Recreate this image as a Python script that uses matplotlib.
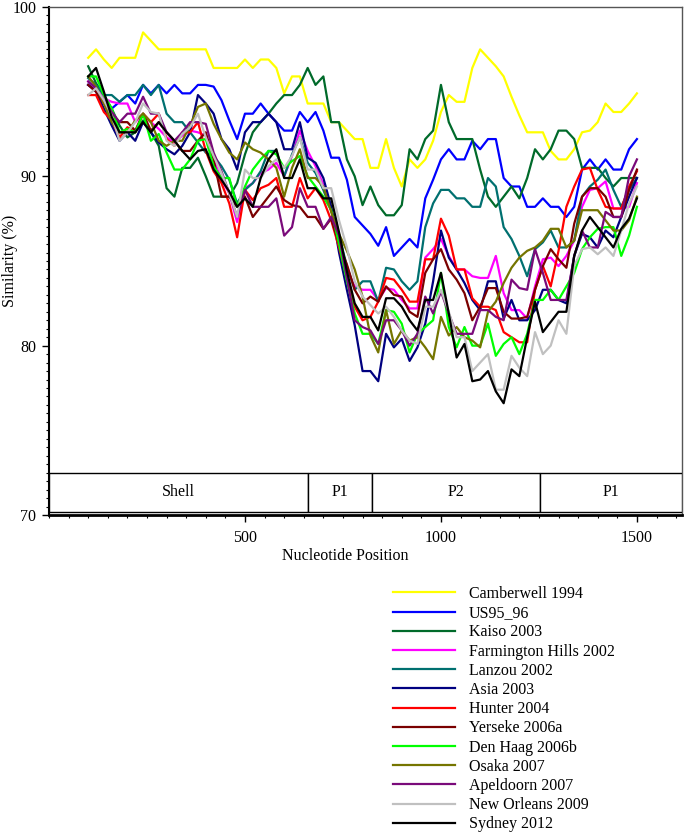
import matplotlib
matplotlib.use("Agg")
import matplotlib.pyplot as plt
import matplotlib.ticker as ticker
from matplotlib.patches import Rectangle
import numpy as np

plt.rcParams['font.family'] = ['Liberation Serif', 'DejaVu Serif']

# window midpoints along the alignment (step 20 nt)
positions = np.arange(100, 1501, 20)

camberwell_1994 = [97.0, 97.5, 96.9, 96.4, 97.0, 97.0, 97.0, 98.5, 98.0, 97.5,
                   97.5, 97.5, 97.5, 97.5, 97.5, 97.5, 96.4, 96.4, 96.4, 96.4,
                   96.9, 96.4, 96.9, 96.9, 96.4, 94.9, 95.9, 95.9, 94.3, 94.3,
                   94.3, 93.2, 93.2, 92.7, 92.2, 92.2, 90.5, 90.5, 92.2, 90.5,
                   89.4, 91.0, 90.5, 91.0, 92.1, 93.8, 94.8, 94.4, 94.4, 96.4,
                   97.5, 97.0, 96.5, 95.9, 94.7, 93.6, 92.6, 92.6, 92.6, 91.5,
                   91.0, 91.0, 91.6, 92.6, 92.7, 93.2, 94.3, 93.8, 93.8, 94.3,
                   94.9]
us95_96 = [95.4, 95.1, 94.6, 94.0, 94.4, 94.8, 94.3, 95.4, 94.9, 95.4,
           94.9, 95.4, 94.9, 94.9, 95.4, 95.4, 95.3, 94.5, 93.3, 92.2,
           93.7, 93.7, 94.3, 93.7, 93.2, 92.7, 92.7, 93.8, 93.2, 93.8,
           92.7, 91.1, 91.1, 89.8, 87.6, 87.1, 86.6, 85.9, 87.0, 85.3,
           85.8, 86.3, 85.8, 88.7, 89.8, 91.0, 91.6, 91.0, 91.0, 92.1,
           91.6, 92.2, 92.2, 89.9, 89.4, 89.4, 88.2, 88.2, 88.7, 88.2,
           88.2, 87.6, 88.2, 90.4, 91.0, 90.4, 91.0, 90.4, 90.4, 91.6,
           92.2]
kaiso_2003 = [96.5, 95.5, 94.8, 94.0, 93.0, 92.3, 92.6, 93.3, 92.6, 91.8,
              89.3, 88.8, 90.5, 90.5, 91.1, 90.0, 88.8, 88.8, 88.8, 89.6,
              91.3, 92.6, 93.2, 93.7, 94.3, 94.8, 94.8, 95.4, 96.4, 95.4,
              95.9, 93.2, 93.2, 91.0, 90.0, 88.3, 89.4, 88.3, 87.7, 87.7,
              88.3, 91.6, 91.0, 92.2, 92.7, 95.4, 93.2, 92.2, 92.2, 92.2,
              90.4, 88.8, 88.2, 88.8, 89.4, 88.7, 89.9, 91.6, 91.0, 91.6,
              92.7, 92.7, 92.2, 90.5, 90.5, 90.5, 89.9, 89.4, 89.9, 89.9,
              89.9]
farmington_hills_2002 = [95.6, 95.2, 94.6, 94.4, 94.3, 94.3, 93.2, 93.7, 93.2, 92.8,
                         92.3, 92.0, 92.4, 92.7, 92.6, 92.4, 91.0, 89.8, 89.0, 87.3,
                         89.3, 89.6, 90.2, 90.4, 90.8, 90.0, 91.2, 92.7, 91.5, 90.6,
                         89.5, 88.0, 86.3, 84.5, 83.5, 83.3, 83.3, 82.7, 83.4, 83.3,
                         82.7, 82.2, 82.2, 85.2, 85.7, 86.3, 85.3, 84.5, 84.5, 84.1,
                         84.0, 84.0, 85.3, 83.1, 82.1, 82.1, 81.6, 83.5, 85.1, 85.2,
                         84.7, 85.3, 86.2, 88.2, 89.2, 89.3, 89.7, 88.1, 88.1, 88.2,
                         89.6]
lanzou_2002 = [95.8, 95.4, 94.8, 94.8, 94.4, 94.8, 94.8, 95.4, 94.8, 95.4,
               93.7, 93.2, 93.2, 92.6, 92.0, 91.4, 91.2, 90.6, 89.8, 88.4,
               89.2, 89.6, 90.3, 91.5, 91.5, 90.0, 91.3, 92.3, 90.8, 90.2,
               89.2, 88.0, 86.5, 84.7, 83.3, 83.8, 83.8, 82.6, 84.6, 84.5,
               83.8, 83.3, 83.8, 87.0, 88.4, 89.2, 89.2, 88.7, 88.7, 88.2,
               88.2, 89.9, 89.4, 87.0, 86.3, 85.3, 84.1, 85.7, 86.1, 86.8,
               85.8, 85.8, 86.2, 88.8, 89.4, 89.8, 90.4, 89.2, 88.2, 89.2,
               89.9]
asia_2003 = [95.4, 95.0, 94.0, 93.0, 92.1, 92.6, 92.1, 93.2, 92.6, 92.0,
             91.6, 91.3, 91.8, 92.6, 94.8, 94.3, 93.7, 92.2, 91.6, 90.4,
             92.6, 93.2, 93.2, 93.7, 93.2, 91.6, 91.6, 93.2, 91.1, 90.8,
             89.9, 88.2, 85.5, 83.3, 81.2, 78.5, 78.5, 77.9, 80.7, 79.9,
             80.4, 79.1, 79.9, 81.3, 83.8, 86.8, 85.2, 84.5, 83.7, 82.7,
             82.1, 83.8, 83.8, 81.6, 82.7, 81.5, 81.5, 82.1, 83.3, 83.3,
             82.7, 82.5, 85.3, 86.6, 86.4, 85.8, 86.8, 86.4, 87.6, 88.8,
             89.9]
hunter_2004 = [94.8, 94.8, 93.8, 93.3, 92.3, 92.9, 92.6, 93.7, 93.2, 93.7,
               92.2, 91.8, 92.6, 92.6, 93.2, 91.5, 90.3, 89.6, 88.4, 86.4,
               89.2, 88.6, 89.3, 89.5, 89.9, 88.2, 88.2, 89.9, 88.7, 89.3,
               88.6, 87.4, 85.8, 84.0, 82.3, 81.5, 81.7, 82.6, 84.0, 83.9,
               83.3, 82.6, 82.6, 85.1, 85.1, 87.5, 86.5, 84.5, 84.5, 82.8,
               82.3, 82.3, 82.1, 80.8, 80.5, 80.2, 80.2, 83.3, 84.7, 83.5,
               85.6, 88.2, 89.4, 90.4, 90.5, 89.2, 88.2, 88.1, 88.1, 89.4,
               90.3]
yerseke_2006a = [95.4, 95.0, 94.3, 93.7, 93.2, 93.2, 92.7, 93.7, 92.7, 93.2,
                 92.6, 92.1, 91.5, 91.5, 92.1, 92.6, 91.0, 88.8, 88.8, 88.2,
                 88.8, 87.6, 88.2, 88.8, 89.4, 88.6, 88.3, 88.2, 87.6, 87.6,
                 86.9, 87.5, 86.0, 84.8, 83.3, 82.5, 82.9, 82.6, 83.5, 83.0,
                 82.9, 82.0, 81.7, 84.3, 85.1, 85.7, 84.5, 83.9, 83.1, 81.5,
                 82.3, 83.4, 83.4, 82.0, 81.6, 81.6, 81.7, 83.3, 84.7, 85.7,
                 85.1, 84.6, 87.2, 88.8, 89.3, 89.3, 88.8, 87.6, 87.6, 89.2,
                 90.4]
den_haag_2006b = [95.9, 95.9, 94.8, 94.0, 92.6, 92.8, 92.6, 93.7, 92.1, 92.5,
                  91.4, 90.4, 90.4, 91.0, 92.1, 92.2, 90.6, 89.9, 89.9, 88.2,
                  89.4, 90.4, 91.0, 91.5, 91.3, 90.5, 90.9, 91.2, 90.0, 89.4,
                  88.8, 88.0, 86.0, 83.8, 81.9, 80.7, 80.7, 80.1, 82.1, 82.0,
                  81.3, 79.6, 80.7, 81.1, 81.5, 84.3, 81.1, 79.9, 81.1, 80.0,
                  80.0, 81.3, 79.4, 80.1, 80.5, 79.5, 80.7, 82.7, 82.7, 83.3,
                  82.7, 83.5, 84.3, 85.7, 86.4, 86.9, 87.0, 87.0, 85.3, 86.5,
                  88.2]
osaka_2007 = [95.9, 95.3, 94.3, 93.2, 92.6, 92.6, 93.3, 93.7, 93.2, 92.1,
              91.8, 92.1, 92.1, 93.0, 94.1, 94.3, 93.1, 92.2, 91.4, 91.0,
              92.0, 91.6, 91.4, 91.0, 90.5, 88.8, 90.5, 91.6, 89.9, 89.9,
              89.4, 87.9, 86.6, 85.6, 84.5, 82.9, 80.6, 79.6, 82.1, 80.1,
              80.9, 80.3, 80.5, 79.9, 79.2, 81.7, 80.6, 81.1, 80.5, 80.3,
              79.9, 82.0, 82.6, 83.7, 84.6, 85.2, 85.6, 85.8, 86.2, 86.9,
              86.9, 85.8, 86.2, 88.0, 88.0, 88.0, 87.4, 86.8, 86.8, 87.4,
              88.8]
apeldoorn_2007 = [95.6, 95.2, 94.5, 93.8, 93.2, 93.7, 93.7, 94.7, 93.7, 93.7,
                  92.6, 92.1, 92.6, 93.2, 93.2, 93.1, 91.4, 90.3, 89.0, 87.6,
                  89.2, 88.2, 88.2, 88.2, 88.7, 86.5, 87.0, 89.3, 88.2, 88.2,
                  86.9, 87.6, 86.5, 84.0, 81.5, 81.1, 80.9, 80.1, 81.5, 81.5,
                  80.9, 80.0, 80.7, 82.9, 81.9, 83.2, 81.9, 80.7, 80.7, 80.7,
                  82.1, 82.1, 81.7, 81.5, 83.9, 83.4, 83.3, 85.7, 84.3, 82.7,
                  82.7, 82.7, 85.3, 86.8, 85.8, 85.8, 87.9, 87.6, 87.6, 90.0,
                  91.0]
new_orleans_2009 = [94.8, 95.2, 94.5, 93.6, 92.1, 92.6, 93.2, 94.3, 93.8, 93.7,
                    92.1, 91.8, 92.5, 92.9, 93.7, 92.3, 91.2, 90.2, 89.0, 87.6,
                    90.4, 89.9, 89.9, 90.6, 91.0, 90.5, 91.2, 92.3, 90.4, 90.4,
                    89.3, 89.3, 87.4, 85.8, 83.8, 82.9, 82.4, 81.9, 82.3, 81.7,
                    80.9, 80.3, 80.1, 82.3, 82.3, 83.3, 82.0, 80.5, 80.5, 78.5,
                    79.0, 79.5, 77.4, 77.4, 79.4, 78.7, 78.2, 80.8, 79.5, 80.0,
                    81.5, 80.7, 84.7, 85.7, 85.8, 85.4, 85.8, 85.3, 86.8, 88.4,
                    89.4]
sydney_2012 = [95.9, 96.4, 95.0, 93.5, 92.6, 92.6, 92.6, 93.2, 92.6, 93.2,
               92.6, 92.1, 91.5, 91.0, 91.5, 91.6, 90.4, 89.8, 89.1, 88.2,
               88.7, 88.2, 89.9, 91.0, 91.6, 89.9, 89.9, 91.0, 89.3, 89.3,
               88.7, 88.7, 86.7, 84.4, 82.5, 81.7, 81.7, 80.9, 82.8, 82.8,
               82.3, 81.5, 80.9, 82.7, 82.7, 84.3, 81.9, 79.3, 80.1, 77.9,
               78.0, 78.5, 77.3, 76.6, 78.6, 78.2, 80.5, 82.6, 80.8, 81.4,
               82.0, 82.0, 85.3, 86.8, 87.6, 87.0, 86.4, 85.8, 86.9, 87.5,
               88.7]

labels = ['Camberwell 1994', 'US95_96', 'Kaiso 2003', 'Farmington Hills 2002',
          'Lanzou 2002', 'Asia 2003', 'Hunter 2004', 'Yerseke 2006a',
          'Den Haag 2006b', 'Osaka 2007', 'Apeldoorn 2007', 'New Orleans 2009',
          'Sydney 2012']
series = [camberwell_1994, us95_96, kaiso_2003, farmington_hills_2002,
          lanzou_2002, asia_2003, hunter_2004, yerseke_2006a, den_haag_2006b,
          osaka_2007, apeldoorn_2007, new_orleans_2009, sydney_2012]
colors = ['#ffff00', '#0000ff', '#006a2a', '#ff00ff', '#007070', '#000080',
          '#ff0000', '#7a0000', '#00ff00', '#757500', '#7a0a7a', '#c0c0c0',
          '#000000']

# genome regions shown in the strip under the curves
regions = [('Shell', 0, 662), ('P1', 662, 824), ('P2', 824, 1252), ('P1', 1252, 1615)]

fig = plt.figure(figsize=(6.85, 8.32), dpi=100)
ax = fig.add_axes([49 / 685, 1 - 515 / 832, 633 / 685, 508 / 832])

for vals, lab, col in zip(series, labels, colors):
    ax.plot(positions, vals, color=col, lw=1.6, label=lab)

# region strip
strip_lo, strip_hi = 70.2, 72.46
for name, start, end in regions:
    ax.add_patch(Rectangle((start, strip_lo), end - start, strip_hi - strip_lo,
                           facecolor='white', edgecolor='black', lw=1.0, zorder=5))
    ax.text((start + end) / 2, (strip_lo + strip_hi) / 2, name, ha='center',
            va='center', fontsize=11.5, zorder=6)

ax.set_xlim(0, 1615)
ax.set_ylim(70, 100)
ax.xaxis.set_major_locator(ticker.FixedLocator([500, 1000, 1500]))
ax.xaxis.set_minor_locator(ticker.MultipleLocator(50))
ax.yaxis.set_major_locator(ticker.MultipleLocator(10))
ax.yaxis.set_minor_locator(ticker.MultipleLocator(0.5))
ax.tick_params(which='major', direction='out', length=5, width=1, labelsize=11.5)
ax.tick_params(which='minor', direction='out', length=2.5, width=0.8)
ax.tick_params(axis='x', pad=6)
ax.tick_params(axis='y', pad=4)

for side in ('top', 'right'):
    ax.spines[side].set_color('#555555')
    ax.spines[side].set_linewidth(1.0)
ax.spines['left'].set_linewidth(1.5)
ax.spines['bottom'].set_linewidth(2.0)

ax.set_ylabel('Similarity (%)', fontsize=11.5)
ax.yaxis.set_label_coords(-0.062, 0.5)
ax.yaxis.label.set_va('center')
ax.set_xlabel('Nucleotide Position', fontsize=11.5)
ax.xaxis.set_label_coords(0.468, -0.081)
ax.xaxis.label.set_va('center')

fig.legend(loc='upper left', bbox_to_anchor=(393 / 685, 1 - 586 / 832),
           frameon=False, fontsize=11.5, handlelength=3.9, handletextpad=0.85,
           labelspacing=0.2, borderpad=0, borderaxespad=0)

fig.savefig('out.png', dpi=100)
